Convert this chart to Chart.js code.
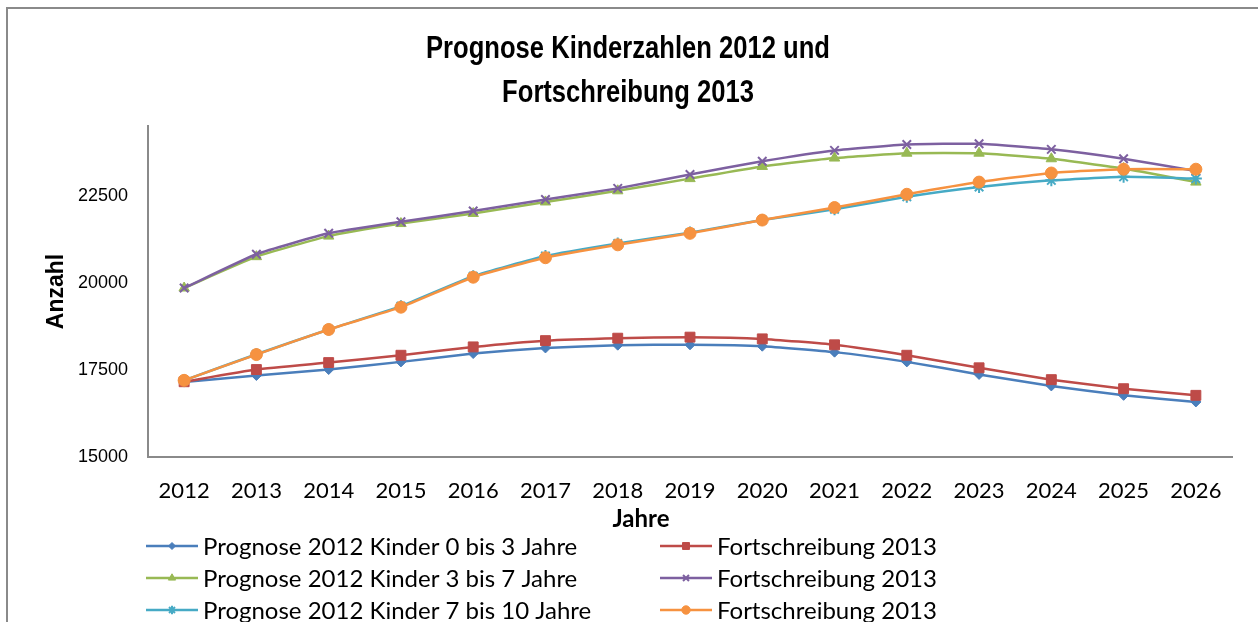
<!DOCTYPE html>
<html>
<head>
<meta charset="utf-8">
<script src="https://cdn.jsdelivr.net/npm/chart.js@4.4.1/dist/chart.umd.min.js"></script>
<style>
  html, body { margin: 0; padding: 0; background: #fff; }
  #wrap { width: 1258px; height: 622px; }
</style>
</head>
<body>
<div id="wrap"><canvas id="chart" width="1258" height="622"></canvas></div>
<script>
const years = ["2012", "2013", "2014", "2015", "2016", "2017", "2018", "2019", "2020", "2021", "2022", "2023", "2024", "2025", "2026"];
const yTicks = [15000, 17500, 20000, 22500];
const titleLines = ["Prognose Kinderzahlen 2012 und", "Fortschreibung 2013"];

const prog0bis3 = [17150, 17340, 17510, 17730, 17970, 18130, 18210, 18220, 18180, 18010, 17730, 17370, 17040, 16770, 16580];
const fort0bis3 = [17160, 17510, 17710, 17920, 18160, 18340, 18410, 18440, 18390, 18220, 17920, 17560, 17220, 16960, 16770];
const prog3bis7 = [19850, 20750, 21340, 21700, 21990, 22320, 22640, 22990, 23340, 23580, 23720, 23720, 23560, 23280, 22890];
const fort3bis7 = [19850, 20820, 21420, 21750, 22060, 22390, 22710, 23110, 23490, 23800, 23970, 23990, 23830, 23560, 23210];
const prog7bis10 = [17200, 17950, 18660, 19330, 20190, 20770, 21130, 21440, 21800, 22110, 22470, 22750, 22940, 23040, 22990];
const fort7bis10 = [17200, 17940, 18660, 19300, 20160, 20720, 21090, 21420, 21800, 22160, 22540, 22890, 23150, 23260, 23260];

const arial = "'Liberation Sans', Arial, sans-serif";

function series(label, data, color, style, radius, bw) {
  return {
    label: label,
    data: data,
    borderColor: color,
    backgroundColor: color,
    borderWidth: 2.5,
    pointStyle: style,
    pointRadius: radius,
    pointBorderWidth: bw,
    pointBorderColor: color,
    pointBackgroundColor: color,
    tension: 0.15
  };
}

const datasets = [
  series("Prognose 2012 Kinder 0 bis 3 Jahre", prog0bis3, "#4A7EBB", "rectRot", 5, 1),
  series("Fortschreibung 2013", fort0bis3, "#BE4B48", "rect", 7, 1),
  series("Prognose 2012 Kinder 3 bis 7 Jahre", prog3bis7, "#98B954", "triangle", 6, 1),
  series("Fortschreibung 2013", fort3bis7, "#7D60A0", "crossRot", 6, 2),
  series("Prognose 2012 Kinder 7 bis 10 Jahre", prog7bis10, "#46AAC5", "star", 6, 2),
  series("Fortschreibung 2013", fort7bis10, "#F69240", "circle", 6, 1)
];
// later series on top, like the original
datasets.forEach((d, i) => { d.order = datasets.length - i; });

// border, narrow title, x title and legend drawn by hand
const extras = {
  id: "extras",
  beforeDraw(chart) {
    const ctx = chart.ctx;
    ctx.save();
    ctx.fillStyle = "#fff";
    ctx.fillRect(0, 0, chart.width, chart.height);
    ctx.restore();
  },
  afterDraw(chart) {
    const ctx = chart.ctx;
    ctx.save();
    ctx.strokeStyle = "#8a8a8a";
    ctx.lineWidth = 2;
    ctx.strokeRect(7, 8, 1400, 800);

    // title, squeezed like Arial Narrow
    ctx.fillStyle = "#000";
    ctx.font = "bold 32px " + arial;
    ctx.textAlign = "center";
    ctx.textBaseline = "alphabetic";
    titleLines.forEach((t, i) => {
      ctx.save();
      ctx.translate(628, 58 + i * 44);
      ctx.scale(0.8, 1);
      ctx.fillText(t, 0, 0);
      ctx.restore();
    });

    ctx.font = "bold 24px Lato";
    ctx.textBaseline = "middle";
    ctx.fillText("Jahre", 641, 519);

    ctx.font = "24px Lato";
    ctx.textAlign = "left";
    chart.data.datasets.forEach((ds, i) => {
      const x0 = i % 2 ? 660 : 146;
      const y = 546 + Math.floor(i / 2) * 32;
      ctx.strokeStyle = ds.borderColor;
      ctx.lineWidth = 2.5;
      ctx.beginPath();
      ctx.moveTo(x0, y);
      ctx.lineTo(x0 + 52, y);
      ctx.stroke();
      ctx.fillStyle = ds.borderColor;
      ctx.lineWidth = ds.pointBorderWidth;
      Chart.helpers.drawPoint(ctx, {
        pointStyle: ds.pointStyle,
        radius: ds.pointRadius * 0.7,
        borderWidth: ds.pointBorderWidth,
        rotation: 0
      }, x0 + 26, y);
      ctx.fillStyle = "#000";
      ctx.fillText(ds.label, x0 + 57, y + 1);
    });
    ctx.restore();
  }
};

const ctx = document.getElementById("chart").getContext("2d");
new Chart(ctx, {
  type: "line",
  data: { labels: years, datasets: datasets },
  plugins: [extras],
  options: {
    responsive: false,
    animation: false,
    layout: { padding: { top: 126, left: 20, right: 26, bottom: 92 } },
    plugins: {
      legend: { display: false },
      tooltip: { enabled: false },
      title: { display: false }
    },
    scales: {
      x: {
        offset: true,
        grid: { display: false, drawTicks: false },
        border: { display: true, color: "#8a8a8a", width: 2 },
        ticks: {
          color: "#000",
          font: { family: "Lato", size: 22 },
          padding: 21,
          autoSkip: false,
          maxRotation: 0
        },
        afterFit(scale) { scale.height = 73; }
      },
      y: {
        min: 15000,
        max: 24500,
        grid: { display: false, drawTicks: false },
        border: { display: true, color: "#8a8a8a", width: 2 },
        ticks: {
          color: "#000",
          font: { family: arial, size: 18 },
          padding: 20,
          callback: v => String(v)
        },
        afterBuildTicks(scale) {
          scale.ticks = yTicks.map(v => ({ value: v }));
        },
        title: {
          display: true,
          text: "Anzahl",
          color: "#000",
          font: { family: arial, size: 23, weight: "bold", lineHeight: 1.2 },
          padding: { top: 23, bottom: 0 }
        },
        afterFit(scale) { scale.width = 128; }
      }
    }
  }
});
</script>
</body>
</html>
